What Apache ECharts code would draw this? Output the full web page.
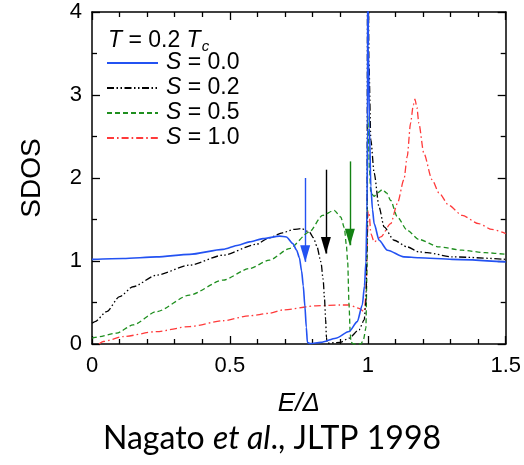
<!DOCTYPE html>
<html>
<head>
<meta charset="utf-8">
<script src="https://cdn.jsdelivr.net/npm/echarts@6/dist/echarts.min.js"></script>
<style>
  html, body { margin: 0; padding: 0; background: #fff; }
  #chart { width: 524px; height: 465px; }
</style>
</head>
<body>
<div id="chart"></div>
<script>
// Spin-resolved density of states vs reduced energy E/Δ at T = 0.2 Tc
const seriesNames = ['S = 0.0', 'S = 0.2', 'S = 0.5', 'S = 1.0'];

const sdos00 = [
  [0, 1.02], [0.113, 1.03], [0.234, 1.05], [0.354, 1.08], [0.475, 1.14], [0.53, 1.19],
  [0.571, 1.23], [0.62, 1.27], [0.68, 1.30], [0.705, 1.29], [0.728, 1.21], [0.742, 1.13],
  [0.752, 1.04], [0.76, 0.88], [0.766, 0.7], [0.772, 0.45], [0.777, 0.2], [0.781, 0.02],
  [0.79, 0.005], [0.83, 0.02], [0.884, 0.07], [0.932, 0.15], [0.962, 0.27], [0.98, 0.47],
  [0.988, 0.7], [0.993, 0.99], [0.997, 1.6], [0.999, 2.6], [1.0, 6], [1.002, 3.6],
  [1.006, 2.6], [1.011, 1.9], [1.017, 1.62], [1.023, 1.45], [1.041, 1.25], [1.071, 1.13],
  [1.131, 1.05], [1.185, 1.04], [1.306, 1.02], [1.5, 0.99]
];

const sdos02 = [
  [0, 0.25], [0.011, 0.27], [0.053, 0.39], [0.1, 0.57], [0.149, 0.69], [0.234, 0.83],
  [0.354, 0.95], [0.475, 1.07], [0.595, 1.2], [0.643, 1.28], [0.691, 1.34], [0.73, 1.38],
  [0.76, 1.39], [0.788, 1.35], [0.803, 1.28], [0.815, 1.18], [0.83, 0.99], [0.838, 0.78],
  [0.843, 0.55], [0.847, 0.3], [0.85, 0.08], [0.853, 0.01], [0.9, 0.02], [0.932, 0.07],
  [0.968, 0.17], [0.987, 0.29], [0.993, 0.5], [0.997, 1.2], [1.0, 6], [1.004, 3.4],
  [1.011, 2.46], [1.023, 2.06], [1.041, 1.65], [1.059, 1.41], [1.095, 1.25], [1.143, 1.17],
  [1.185, 1.11], [1.215, 1.10], [1.306, 1.05], [1.5, 1.02]
];

const sdos05 = [
  [0, 0.07], [0.011, 0.08], [0.089, 0.13], [0.149, 0.23], [0.234, 0.39], [0.354, 0.59],
  [0.475, 0.77], [0.571, 0.91], [0.643, 1.01], [0.716, 1.15], [0.788, 1.35], [0.836, 1.55],
  [0.878, 1.61], [0.902, 1.53], [0.915, 1.4], [0.922, 1.2], [0.927, 0.99], [0.932, 0.47],
  [0.936, 0.15], [0.939, 0.02], [0.95, 0], [0.975, 0], [0.984, 0.05], [0.993, 0.19],
  [0.997, 0.9], [1.0, 2.76], [1.003, 2.4], [1.006, 2.1], [1.011, 1.82], [1.023, 1.78],
  [1.035, 1.82], [1.053, 1.86], [1.068, 1.82], [1.083, 1.73], [1.107, 1.53], [1.143, 1.37],
  [1.185, 1.26], [1.258, 1.17], [1.342, 1.13], [1.426, 1.10], [1.5, 1.08]
];

const sdos10 = [
  [0.025, 0], [0.041, 0.03], [0.113, 0.09], [0.234, 0.15], [0.354, 0.21], [0.475, 0.28],
  [0.571, 0.34], [0.643, 0.37], [0.691, 0.41], [0.812, 0.46], [0.9, 0.47], [0.932, 0.47],
  [0.968, 0.43], [0.987, 0.39], [0.994, 0.6], [0.998, 1.2], [1.001, 1.6], [1.005, 1.57],
  [1.011, 1.33], [1.023, 1.23], [1.047, 1.29], [1.083, 1.45], [1.107, 1.69], [1.131, 1.98],
  [1.143, 2.26], [1.155, 2.66], [1.165, 2.88], [1.171, 2.95], [1.178, 2.85], [1.185, 2.66],
  [1.203, 2.3], [1.233, 1.98], [1.258, 1.82], [1.294, 1.67], [1.342, 1.55], [1.402, 1.45],
  [1.45, 1.38], [1.5, 1.33]
];

// Gap-edge arrows: position on E axis, tail and tip heights
const arrowE = [0.773, 0.848, 0.935];
const arrowTail = [2.0, 2.1, 2.2];
const arrowTip = [0.99, 1.09, 1.19];

const xTicks = [0, 0.5, 1, 1.5];
const yTicks = [0, 1, 2, 3, 4];

const FONT = '"Liberation Sans", Arial, Helvetica, sans-serif';
const colors = ['#2352f2', '#000000', '#1f8f1f', '#ff3a3a'];
const arrowColors = ['#2352f2', '#000000', '#138213'];
const dashes = ['solid', [7, 2.5, 1.5, 2.5, 1.5, 2.5], [5, 3], [7, 3, 1.6, 3]];
const widths = [1.6, 1.3, 1.3, 1.3];
const dataSets = [sdos00, sdos02, sdos05, sdos10];

function arrowMark(i) {
  if (i >= arrowE.length) return undefined;
  return {
    silent: true,
    symbol: ['none', 'triangle'],
    symbolSize: [10, 17],
    symbolOffset: [0, [0, 8]],
    label: { show: false },
    lineStyle: { color: arrowColors[i], type: 'solid', width: 1.4 },
    itemStyle: { color: arrowColors[i] },
    emphasis: { disabled: true },
    data: [[
      { coord: [arrowE[i], arrowTail[i]] },
      { coord: [arrowE[i], arrowTip[i]] }
    ]]
  };
}

const series = dataSets.map((d, i) => ({
  name: seriesNames[i],
  type: 'line',
  data: d,
  symbol: 'none',
  showSymbol: false,
  smooth: 0.25,
  smoothMonotone: 'x',
  clip: true,
  z: 10 - i,
  lineStyle: { color: colors[i], type: dashes[i], width: widths[i] },
  itemStyle: { color: colors[i] },
  emphasis: { disabled: true },
  markLine: arrowMark(i)
}));

const axisCommon = {
  type: 'value',
  axisLine: { show: true, onZero: false, lineStyle: { color: '#000', width: 1.5 } },
  axisTick: { show: true, inside: true, length: 8, lineStyle: { color: '#000', width: 1.3 } },
  minorTick: { show: true, length: 5, lineStyle: { color: '#000', width: 1.3 } },
  splitLine: { show: false },
  minorSplitLine: { show: false }
};

const xMain = Object.assign({}, axisCommon, {
  min: xTicks[0], max: xTicks[xTicks.length - 1], interval: 0.5,
  position: 'bottom',
  minorTick: Object.assign({}, axisCommon.minorTick, { splitNumber: 5 }),
  axisLabel: {
    margin: 11, color: '#000', fontFamily: FONT, fontSize: 22,
    formatter: v => String(v)
  },
  name: 'E/Δ',
  nameLocation: 'middle',
  nameGap: 47,
  nameTextStyle: { fontFamily: FONT, fontSize: 26, fontStyle: 'italic', color: '#000' }
});

const xTop = Object.assign({}, axisCommon, {
  min: xTicks[0], max: xTicks[xTicks.length - 1], interval: 0.5,
  position: 'top',
  minorTick: Object.assign({}, axisCommon.minorTick, { splitNumber: 5 }),
  axisLabel: { show: false }
});

const yMain = Object.assign({}, axisCommon, {
  min: yTicks[0], max: yTicks[yTicks.length - 1], interval: 1,
  position: 'left',
  minorTick: Object.assign({}, axisCommon.minorTick, { splitNumber: 2 }),
  axisLabel: { margin: 10, color: '#000', fontFamily: FONT, fontSize: 22 },
  name: 'SDOS',
  nameLocation: 'middle',
  nameGap: 46,
  nameTextStyle: { fontFamily: FONT, fontSize: 28, color: '#000' }
});

const yRight = Object.assign({}, axisCommon, {
  min: yTicks[0], max: yTicks[yTicks.length - 1], interval: 1,
  position: 'right',
  minorTick: Object.assign({}, axisCommon.minorTick, { splitNumber: 2 }),
  axisLabel: { show: false }
});

const chart = echarts.init(document.getElementById('chart'), null, { renderer: 'canvas' });
chart.setOption({
  animation: false,
  backgroundColor: '#fff',
  grid: { left: 92, right: 17, top: 12, bottom: 121, containLabel: false },
  title: [
    {
      text: '{i|T} = 0.2 {i|T}{s|c}',
      left: 108, top: 27, padding: 0,
      textStyle: {
        fontFamily: FONT, fontSize: 23, fontWeight: 'normal', color: '#000',
        rich: {
          i: { fontFamily: FONT, fontSize: 23, fontStyle: 'italic', color: '#000' },
          s: { fontFamily: FONT, fontSize: 15, fontStyle: 'italic', color: '#000', padding: [12, 0, 0, 1] }
        }
      }
    },
    {
      text: 'Nagato {i|et al}., JLTP 1998',
      left: 103, top: 423, padding: 0,
      textStyle: {
        fontFamily: 'Lato, "Open Sans", sans-serif', fontSize: 32, fontWeight: 'normal', color: '#000',
        rich: {
          i: { fontFamily: 'Lato, "Open Sans", sans-serif', fontSize: 32, fontStyle: 'italic', color: '#000' }
        }
      }
    }
  ],
  legend: {
    orient: 'vertical',
    left: 106, top: 51,
    padding: 0,
    itemWidth: 51, itemHeight: 12, itemGap: 1,
    selectedMode: false,
    data: seriesNames,
    itemStyle: { opacity: 0 },
    formatter: n => '{i|S}' + n.slice(1),
    textStyle: {
      fontFamily: FONT, fontSize: 23, lineHeight: 24, color: '#000',
      padding: [0, 0, 0, 3],
      rich: { i: { fontFamily: FONT, fontSize: 23, lineHeight: 24, fontStyle: 'italic', color: '#000' } }
    }
  },
  xAxis: [xMain, xTop],
  yAxis: [yMain, yRight],
  series: series
});
</script>
</body>
</html>
